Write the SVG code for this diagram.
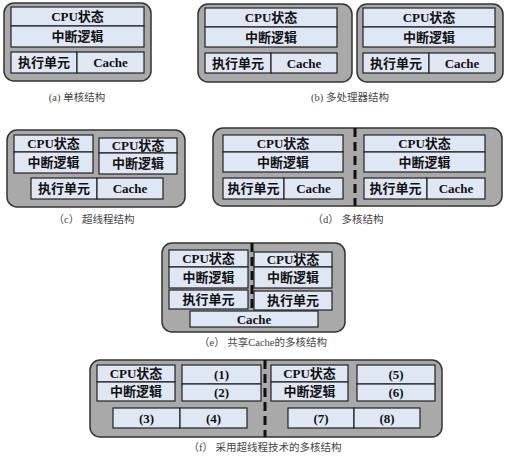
<svg xmlns="http://www.w3.org/2000/svg" width="507" height="457" viewBox="0 0 507 457">
<style>
.outer{fill:#a9a9a9;stroke:#333;stroke-width:1.5}
.box{fill:#e0e7f4;stroke:#222;stroke-width:1.2}
.t{font-family:"Liberation Serif","Noto Sans CJK SC",serif;font-weight:bold;font-size:13px;fill:#111;text-anchor:middle}
.cap{font-family:"Liberation Serif","Noto Sans CJK SC",serif;font-size:10.5px;fill:#444;text-anchor:middle}
.dash{stroke:#111;stroke-width:3;stroke-dasharray:9 5;fill:none}
</style>
<rect width="507" height="457" fill="#fff"/>

<!-- (a) -->
<g id="panel-a">
<rect class="outer" x="4" y="3" width="147" height="78" rx="10"/>
<g id="a-cpu"><rect class="box" x="11" y="7" width="133" height="19"/><text class="t" x="77.5" y="21">CPU状态</text></g>
<g id="a-int"><rect class="box" x="11" y="26" width="133" height="21"/><text class="t" x="77.5" y="41">中断逻辑</text></g>
<g id="a-exe"><rect class="box" x="11" y="52" width="66" height="21"/><text class="t" x="44" y="67">执行单元</text></g>
<g id="a-cache"><rect class="box" x="77" y="52" width="67" height="21"/><text class="t" x="110.5" y="67">Cache</text></g>
<text class="cap" x="77" y="101">(a) 单核结构</text>
</g>

<!-- (b) -->
<g id="panel-b">
<rect class="outer" x="198" y="4" width="154" height="78" rx="10"/>
<g id="b1-cpu"><rect class="box" x="205" y="8" width="132" height="19"/><text class="t" x="271" y="22">CPU状态</text></g>
<g id="b1-int"><rect class="box" x="205" y="27" width="132" height="20"/><text class="t" x="271" y="42">中断逻辑</text></g>
<g id="b1-exe"><rect class="box" x="205" y="53" width="66" height="20"/><text class="t" x="238" y="68">执行单元</text></g>
<g id="b1-cache"><rect class="box" x="271" y="53" width="66" height="20"/><text class="t" x="304" y="68">Cache</text></g>
<rect class="outer" x="357" y="4" width="146" height="78" rx="10"/>
<g id="b2-cpu"><rect class="box" x="363" y="8" width="132" height="19"/><text class="t" x="429" y="22">CPU状态</text></g>
<g id="b2-int"><rect class="box" x="363" y="27" width="132" height="20"/><text class="t" x="429" y="42">中断逻辑</text></g>
<g id="b2-exe"><rect class="box" x="363" y="53" width="66" height="20"/><text class="t" x="396" y="68">执行单元</text></g>
<g id="b2-cache"><rect class="box" x="429" y="53" width="66" height="20"/><text class="t" x="462" y="68">Cache</text></g>
<text class="cap" x="350" y="101">(b) 多处理器结构</text>
</g>

<!-- (c) -->
<g id="panel-c">
<rect class="outer" x="7" y="130" width="178" height="77" rx="10"/>
<g id="c-cpu1"><rect class="box" x="14" y="135" width="79" height="17"/><text class="t" x="53.5" y="148">CPU状态</text></g>
<g id="c-int1"><rect class="box" x="14" y="152" width="79" height="21"/><text class="t" x="53.5" y="167">中断逻辑</text></g>
<g id="c-cpu2"><rect class="box" x="99" y="138" width="78" height="15"/><text class="t" x="138" y="150">CPU状态</text></g>
<g id="c-int2"><rect class="box" x="99" y="153" width="78" height="21"/><text class="t" x="138" y="168">中断逻辑</text></g>
<g id="c-exe"><rect class="box" x="31" y="178" width="66" height="21"/><text class="t" x="64" y="193">执行单元</text></g>
<g id="c-cache"><rect class="box" x="97" y="178" width="66" height="21"/><text class="t" x="130" y="193">Cache</text></g>
<text class="cap" x="94" y="223">（c） 超线程结构</text>
</g>

<!-- (d) -->
<g id="panel-d">
<rect class="outer" x="213" y="128" width="289" height="78" rx="10"/>
<g id="d1-cpu"><rect class="box" x="223" y="135" width="120" height="17"/><text class="t" x="283" y="148">CPU状态</text></g>
<g id="d1-int"><rect class="box" x="223" y="152" width="120" height="20"/><text class="t" x="283" y="167">中断逻辑</text></g>
<g id="d1-exe"><rect class="box" x="223" y="178" width="61" height="21"/><text class="t" x="253.5" y="193">执行单元</text></g>
<g id="d1-cache"><rect class="box" x="284" y="178" width="59" height="21"/><text class="t" x="313.5" y="193">Cache</text></g>
<g id="d2-cpu"><rect class="box" x="364" y="135" width="121" height="17"/><text class="t" x="424.5" y="148">CPU状态</text></g>
<g id="d2-int"><rect class="box" x="364" y="152" width="121" height="20"/><text class="t" x="424.5" y="167">中断逻辑</text></g>
<g id="d2-exe"><rect class="box" x="364" y="178" width="63" height="21"/><text class="t" x="395.5" y="193">执行单元</text></g>
<g id="d2-cache"><rect class="box" x="427" y="178" width="58" height="21"/><text class="t" x="456" y="193">Cache</text></g>
<text class="cap" x="348" y="223">（d） 多核结构</text>
</g>

<!-- (e) -->
<g id="panel-e">
<rect class="outer" x="162" y="243" width="183" height="89" rx="10"/>
<g id="e-cpu1"><rect class="box" x="169" y="250" width="79" height="17"/><text class="t" x="208.5" y="263">CPU状态</text></g>
<g id="e-int1"><rect class="box" x="169" y="267" width="79" height="21"/><text class="t" x="208.5" y="282">中断逻辑</text></g>
<g id="e-exe1"><rect class="box" x="169" y="290" width="79" height="19"/><text class="t" x="208.5" y="304">执行单元</text></g>
<g id="e-cpu2"><rect class="box" x="254" y="252" width="78" height="15"/><text class="t" x="293" y="264">CPU状态</text></g>
<g id="e-int2"><rect class="box" x="254" y="267" width="78" height="21"/><text class="t" x="293" y="282">中断逻辑</text></g>
<g id="e-exe2"><rect class="box" x="254" y="291" width="78" height="19"/><text class="t" x="293" y="305">执行单元</text></g>
<g id="e-cache"><rect class="box" x="190" y="311" width="128" height="16"/><text class="t" x="254" y="323.5">Cache</text></g>
<text class="cap" x="263" y="346">（e） 共享Cache的多核结构</text>
</g>

<!-- (f) -->
<g id="panel-f">
<rect class="outer" x="90" y="360" width="352" height="77" rx="10"/>
<g id="f1-cpu"><rect class="box" x="97" y="365" width="78" height="17"/><text class="t" x="136" y="378">CPU状态</text></g>
<g id="f1-int"><rect class="box" x="97" y="382" width="78" height="19"/><text class="t" x="136" y="396">中断逻辑</text></g>
<g id="f1-1"><rect class="box" x="182" y="365" width="79" height="19"/><text class="t" x="221.5" y="379">(1)</text></g>
<g id="f1-2"><rect class="box" x="182" y="384" width="79" height="17"/><text class="t" x="221.5" y="397">(2)</text></g>
<g id="f1-3"><rect class="box" x="113" y="408" width="67" height="20"/><text class="t" x="146.5" y="422.5">(3)</text></g>
<g id="f1-4"><rect class="box" x="180" y="408" width="67" height="20"/><text class="t" x="213.5" y="422.5">(4)</text></g>
<g id="f2-cpu"><rect class="box" x="271" y="365" width="77" height="17"/><text class="t" x="309.5" y="378">CPU状态</text></g>
<g id="f2-int"><rect class="box" x="271" y="382" width="77" height="19"/><text class="t" x="309.5" y="396">中断逻辑</text></g>
<g id="f2-5"><rect class="box" x="357" y="365" width="78" height="19"/><text class="t" x="396" y="379">(5)</text></g>
<g id="f2-6"><rect class="box" x="357" y="384" width="78" height="17"/><text class="t" x="396" y="397">(6)</text></g>
<g id="f2-7"><rect class="box" x="288" y="408" width="66" height="20"/><text class="t" x="321" y="422.5">(7)</text></g>
<g id="f2-8"><rect class="box" x="354" y="408" width="66" height="20"/><text class="t" x="387" y="422.5">(8)</text></g>
<text class="cap" x="265" y="451">（f） 采用超线程技术的多核结构</text>
</g>

<g id="connectors">
<line class="dash" x1="355" y1="128" x2="355" y2="206"/>
<line class="dash" x1="252" y1="243" x2="252" y2="312"/>
<line class="dash" x1="265" y1="360" x2="265" y2="437"/>
</g>
</svg>
